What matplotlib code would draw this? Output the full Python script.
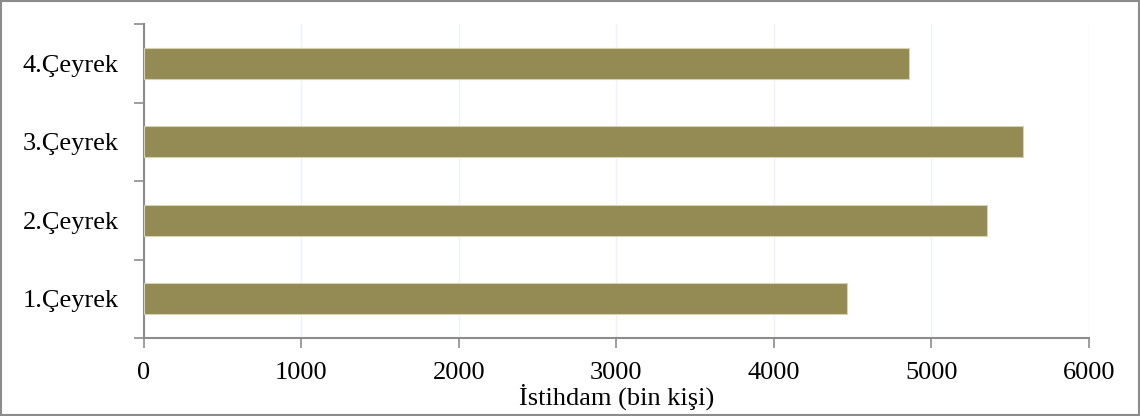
import matplotlib.pyplot as plt
from matplotlib.patches import Rectangle

plt.rcParams['font.family'] = ['Liberation Serif', 'DejaVu Serif']

ceyrekler = ['1.Çeyrek', '2.Çeyrek', '3.Çeyrek', '4.Çeyrek']
istihdam = [4467, 5352, 5583, 4856]
x_ticks = [0, 1000, 2000, 3000, 4000, 5000, 6000]

fig = plt.figure(figsize=(11.4, 4.16), dpi=100)
ax = fig.add_axes([0.1263, 0.1875, 0.8287, 0.7548])

gri = '#8c8c8c'
ax.barh(range(len(ceyrekler)), istihdam, height=0.4, color='#948A54',
        edgecolor='#d6d2b4', linewidth=0.8, zorder=3)

ax.set_xlim(0, 6000)
ax.set_ylim(-0.5, len(ceyrekler) - 0.5)
ax.set_xticks(x_ticks)
ax.set_xticklabels([str(t) for t in x_ticks], fontsize=19)
ax.set_yticks(range(len(ceyrekler)))
ax.set_yticklabels(ceyrekler, fontsize=19)
ax.set_yticks([i - 0.5 for i in range(len(ceyrekler) + 1)], minor=True)

ax.tick_params(axis='y', which='major', length=0, pad=18)
ax.tick_params(axis='y', which='minor', length=7, width=1.2, color=gri, direction='out')
ax.tick_params(axis='x', which='major', length=7, width=1.2, color=gri,
               direction='out', pad=10)

ax.grid(axis='x', color='#eff0fa', linewidth=1.0, zorder=0)
for s in ['top', 'right']:
    ax.spines[s].set_visible(False)
for s in ['left', 'bottom']:
    ax.spines[s].set_color(gri)
    ax.spines[s].set_linewidth(1.5)

ax.set_xlabel('İstihdam (bin kişi)', fontsize=19, labelpad=0)

# dış çerçeve
fig.patches.append(Rectangle((0.001, 0.002), 0.998, 0.996, transform=fig.transFigure,
                             fill=False, edgecolor=gri, linewidth=1.5))

fig.savefig('out.png', dpi=100)
